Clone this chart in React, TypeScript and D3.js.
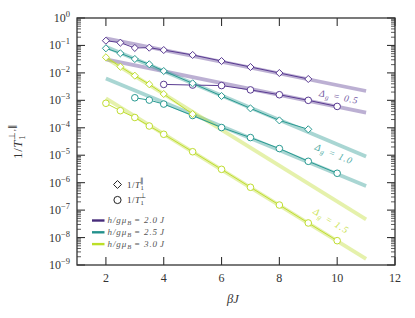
import React from 'react'
import * as d3 from 'd3'

// field values h/gμB (units of J)
const fields = ['2.0', '2.5', '3.0']
const colors = ['#5a3b92', '#2a9a92', '#bfdd30']
const lineColors = ['#472c7a', '#23918c', '#bcdf27']
const gaps = ['0.5', '1.0', '1.5']

// 1/T1 parallel (diamonds)
const parX = [
  [2, 2.5, 3, 3.5, 4, 5, 6, 7, 8, 9],
  [2, 2.5, 3, 3.5, 4, 5, 6, 7, 8, 9],
  [2, 2.5, 3, 3.5, 4, 5],
]
const parY = [
  [0.149, 0.126, 0.081, 0.083, 0.068, 0.045, 0.027, 0.0164, 0.0099, 0.006],
  [0.0787, 0.0518, 0.0321, 0.0206, 0.0117, 0.00417, 0.00144, 5.1e-4, 1.86e-4, 8.8e-5],
  [0.037, 0.0168, 7.9e-3, 3.84e-3, 1.7e-3, 3.16e-4],
]

// 1/T1 perpendicular (circles)
const perpX = [
  [4, 5, 6, 7, 8, 9, 10],
  [3, 3.5, 4, 5, 6, 7, 8, 9, 10],
  [2, 2.5, 3, 3.5, 4, 5, 6, 7, 8, 9, 10],
]
const perpY = [
  [3.8e-3, 3.6e-3, 3.45e-3, 2.4e-3, 1.6e-3, 1.0e-3, 6.0e-4],
  [1.24e-3, 1.02e-3, 7.3e-4, 2.8e-4, 1.02e-4, 4.4e-5, 1.75e-5, 6.0e-6, 2.2e-6],
  [7.8e-4, 4.2e-4, 2.37e-4, 1.16e-4, 5.8e-5, 1.34e-5, 3.06e-6, 6.8e-7, 1.53e-7, 3.4e-8, 7.7e-9],
]

// exponential fits, values at fitX
const fitX = [2, 11]
const fitPar = [
  [0.182, 2.19e-3],
  [0.09, 8.9e-6],
  [0.0347, 4.6e-8],
]
const fitPerp = [
  [0.0313, 3.55e-4],
  [6.3e-3, 7.6e-7],
  [1.17e-3, 1.66e-9],
]

const xTicks = [2, 4, 6, 8, 10, 12]
const yExps = [0, -1, -2, -3, -4, -5, -6, -7, -8, -9]
// label centres (βJ, value)
const labelX = [10.06, 9.89, 9.79]
const labelY = [1.32e-3, 1.1e-5, 4.0e-8]

const W = 415
const H = 318
const L = 77
const R = 395
const T = 18
const B = 265

export default function App() {
  const x = d3.scaleLinear().domain([1, 12]).range([L, R])
  const y = d3.scaleLog().domain([1e-9, 1]).range([B, T])

  const line = d3
    .line<[number, number]>()
    .x((d) => x(d[0]))
    .y((d) => y(d[1]))

  const minor: number[] = []
  yExps.slice(0, -1).forEach((e) => {
    for (let k = 2; k <= 9; k++) minor.push(k * Math.pow(10, e - 1))
  })

  const diamond = d3.symbol(d3.symbolDiamond2, 32)()
  const legendDiamond = d3.symbol(d3.symbolDiamond2, 40)()
  const frame = '#333'
  const serif = { fontFamily: '"Liberation Serif", "Times New Roman", serif' }

  return (
    <svg width={W} height={H} style={{ position: 'absolute', left: 0, top: 0, background: '#fff' }}>
      {/* fits */}
      {fields.map((f, i) => (
        <g key={'fit' + f} stroke={colors[i]} strokeWidth={3.8} fill="none" opacity={0.4}>
          <path d={line(fitX.map((v, j) => [v, fitPar[i][j]]) as [number, number][]) || ''} />
          <path d={line(fitX.map((v, j) => [v, fitPerp[i][j]]) as [number, number][]) || ''} />
        </g>
      ))}
      {/* data */}
      {fields.map((f, i) => (
        <g key={'data' + f} stroke={colors[i]} strokeWidth={1}>
          <path fill="none" d={line(parX[i].map((v, j) => [v, parY[i][j]]) as [number, number][]) || ''} />
          <path fill="none" d={line(perpX[i].map((v, j) => [v, perpY[i][j]]) as [number, number][]) || ''} />
          {parX[i].map((v, j) => (
            <path key={'d' + j} d={diamond || ''} transform={`translate(${x(v)},${y(parY[i][j])})`} fill="#fff" />
          ))}
          {perpX[i].map((v, j) => (
            <circle key={'c' + j} cx={x(v)} cy={y(perpY[i][j])} r={3.3} fill="#fff" />
          ))}
        </g>
      ))}
      {/* gap labels */}
      {gaps.map((g, i) => {
        const slope = (y(fitPerp[i][1]) - y(fitPerp[i][0])) / (x(fitX[1]) - x(fitX[0]))
        const ang = (Math.atan(slope) * 180) / Math.PI
        return (
          <text
            key={g}
            transform={`translate(${x(labelX[i])},${y(labelY[i])}) rotate(${ang})`}
            dy={3}
            textAnchor="middle"
            style={serif}
            fontStyle="italic"
            fontSize={9.5}
            letterSpacing={1}
            fill={colors[i]}
            opacity={0.85}
          >
            Δ<tspan fontSize={7} dy={2}>g</tspan>
            <tspan dy={-2}> = {g}</tspan>
          </text>
        )
      })}
      {/* frame */}
      <rect x={L} y={T} width={R - L} height={B - T} fill="none" stroke={frame} strokeWidth={1.3} />
      {xTicks.map((t) => (
        <g key={'xt' + t} stroke={frame} strokeWidth={1.1}>
          <line x1={x(t)} x2={x(t)} y1={B} y2={B - 8} />
          <line x1={x(t)} x2={x(t)} y1={T} y2={T + 8} />
        </g>
      ))}
      {yExps.map((e) => (
        <g key={'yt' + e} stroke={frame} strokeWidth={1.1}>
          <line x1={L} x2={L + 8} y1={y(Math.pow(10, e))} y2={y(Math.pow(10, e))} />
          <line x1={R} x2={R - 8} y1={y(Math.pow(10, e))} y2={y(Math.pow(10, e))} />
        </g>
      ))}
      {minor.map((m, k) => (
        <g key={'ym' + k} stroke={frame} strokeWidth={0.8}>
          <line x1={L} x2={L + 4} y1={y(m)} y2={y(m)} />
          <line x1={R} x2={R - 4} y1={y(m)} y2={y(m)} />
        </g>
      ))}
      {xTicks.map((t) => (
        <text key={'xl' + t} x={x(t)} y={282} textAnchor="middle" style={serif} fontSize={12} fill="#333">
          {t}
        </text>
      ))}
      {yExps.map((e) => (
        <text key={'yl' + e} x={70} y={y(Math.pow(10, e)) + 4} textAnchor="end" style={serif} fontSize={12} fill="#333">
          10<tspan fontSize={8.5} dy={-5}>{e === 0 ? '0' : '−' + -e}</tspan>
        </text>
      ))}
      <text x={233} y={303} textAnchor="middle" style={serif} fontStyle="italic" fontSize={12.5} fill="#333">
        βJ
      </text>
      <text transform="translate(22,141) rotate(-90)" textAnchor="middle" style={serif} fontSize={13} letterSpacing={0.6} fill="#333">
        1/<tspan fontStyle="italic">T</tspan>
        <tspan fontSize={8.5} dy={3}>1</tspan>
        <tspan fontSize={8.5} dy={-10} dx={-5}>⊥,∥</tspan>
      </text>
      {/* legend */}
      <path d={legendDiamond || ''} transform="translate(117.5,184.5)" fill="#fff" stroke="#222" strokeWidth={1} />
      <circle cx={117.5} cy={200} r={3.6} fill="#fff" stroke="#222" strokeWidth={1} />
      <text x={127} y={187.5} style={serif} fontSize={9} letterSpacing={0.5} fill="#333">
        1/<tspan fontStyle="italic">T</tspan>
        <tspan fontSize={6.5} dy={2}>1</tspan>
        <tspan fontSize={6.5} dy={-7} dx={-4}>∥</tspan>
      </text>
      <text x={127} y={202.5} style={serif} fontSize={9} letterSpacing={0.5} fill="#333">
        1/<tspan fontStyle="italic">T</tspan>
        <tspan fontSize={6.5} dy={2}>1</tspan>
        <tspan fontSize={6.5} dy={-7} dx={-4}>⊥</tspan>
      </text>
      {fields.map((f, i) => {
        const cy = 220.5 + i * 11.8
        return (
          <g key={'lg' + f}>
            <line x1={92} x2={104.5} y1={cy} y2={cy} stroke={lineColors[i]} strokeWidth={2.4} />
            <text x={107.5} y={cy + 2.5} style={serif} fontStyle="italic" fontSize={9} letterSpacing={0.9} fill="#555">
              h/gμ<tspan fontSize={6.5} dy={2}>B</tspan>
              <tspan dy={-2} dx={2}>=</tspan>
              <tspan dx={3}>{f}</tspan>
              <tspan dx={2}>J</tspan>
            </text>
          </g>
        )
      })}
    </svg>
  )
}
